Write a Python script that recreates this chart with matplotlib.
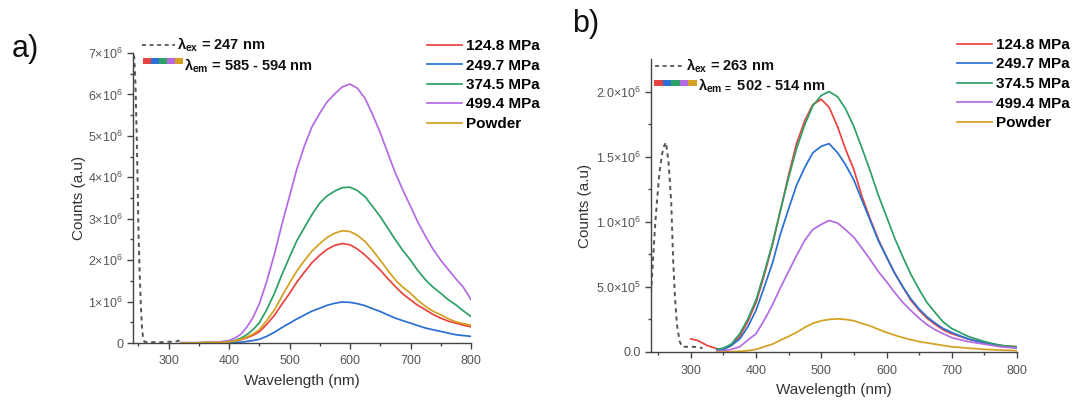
import numpy as np
import matplotlib
matplotlib.use("Agg")
import matplotlib.pyplot as plt
from matplotlib.lines import Line2D
from matplotlib.patches import Rectangle

plt.rcParams['font.family'] = ['Liberation Sans', 'DejaVu Sans']
plt.rcParams['mathtext.fontset'] = 'custom'
plt.rcParams['mathtext.rm'] = 'Liberation Sans'
plt.rcParams['mathtext.it'] = 'Liberation Sans:italic'
plt.rcParams['mathtext.bf'] = 'Liberation Sans:bold'

# ---------------- data ----------------
labels = ["124.8 MPa", "249.7 MPa", "374.5 MPa", "499.4 MPa", "Powder"]
colors = ["#e8433f", "#2a6fd4", "#2ca065", "#b56ae3", "#d4a020"]

# panel a (counts in units of 1e6)
ex_a_x = [242, 243, 245, 247, 249, 250, 252, 254, 256, 258, 260, 265, 270, 280, 290, 300, 310, 318]
ex_a_y = [6.95, 6.9, 6.3, 5.1, 3.6, 2.7, 1.7, 0.9, 0.35, 0.08, 0.03, 0.02, 0.02, 0.02, 0.02, 0.03, 0.03, 0.06]
em_a_x = [320, 340, 360, 380, 400, 410, 420, 430, 440, 450, 462, 475, 487, 500, 512, 525, 537, 550,
          562, 575, 587, 600, 612, 625, 637, 650, 662, 675, 687, 700, 712, 725, 737, 750, 762, 775, 787, 800]
em_a_124 = [0, 0, 0.01, 0.01, 0.02, 0.04, 0.08, 0.13, 0.19, 0.27, 0.45, 0.67, 0.93, 1.2, 1.47, 1.72, 1.94, 2.12,
            2.26, 2.36, 2.4, 2.37, 2.27, 2.12, 1.95, 1.76, 1.56, 1.36, 1.19, 1.04, 0.91, 0.8, 0.69, 0.6, 0.53, 0.48, 0.43, 0.39]
em_a_249 = [0, 0, 0, 0, 0.01, 0.015, 0.02, 0.04, 0.06, 0.09, 0.16, 0.26, 0.37, 0.48, 0.58, 0.68, 0.77, 0.84,
            0.91, 0.96, 0.99, 0.98, 0.95, 0.9, 0.83, 0.76, 0.68, 0.6, 0.54, 0.48, 0.42, 0.36, 0.32, 0.28, 0.24, 0.2, 0.18, 0.16]
em_a_374 = [0, 0, 0.01, 0.01, 0.03, 0.06, 0.12, 0.21, 0.33, 0.49, 0.8, 1.2, 1.64, 2.08, 2.47, 2.8, 3.1, 3.38,
            3.55, 3.67, 3.75, 3.76, 3.68, 3.53, 3.3, 3.05, 2.78, 2.49, 2.24, 2.0, 1.75, 1.52, 1.35, 1.2, 1.05, 0.92, 0.78, 0.64]
em_a_499 = [0.01, 0.01, 0.01, 0.02, 0.06, 0.12, 0.22, 0.4, 0.63, 0.95, 1.48, 2.15, 2.85, 3.55, 4.2, 4.78, 5.22, 5.55,
            5.82, 6.02, 6.18, 6.25, 6.15, 5.9, 5.52, 5.07, 4.6, 4.1, 3.7, 3.3, 2.92, 2.57, 2.27, 2.0, 1.78, 1.55, 1.35, 1.05]
em_a_pow = [0, 0, 0.01, 0.01, 0.03, 0.05, 0.09, 0.15, 0.22, 0.32, 0.54, 0.8, 1.12, 1.45, 1.74, 2.0, 2.22, 2.4,
            2.55, 2.65, 2.71, 2.69, 2.6, 2.45, 2.24, 2.0, 1.76, 1.52, 1.35, 1.2, 1.03, 0.88, 0.77, 0.68, 0.59, 0.51, 0.47, 0.43]

# panel b (counts in units of 1e6)
ex_b_x = [239, 242, 245, 248, 252, 256, 259, 262, 266, 270, 273, 276, 279, 283, 287, 295, 305, 318]
ex_b_y = [0.45, 0.7, 0.95, 1.15, 1.38, 1.52, 1.58, 1.61, 1.45, 1.15, 0.7, 0.4, 0.2, 0.08, 0.04, 0.04, 0.04, 0.03]
em_b_x = [300, 310, 325, 340, 350, 362, 375, 387, 400, 412, 425, 437, 450, 462, 475, 487, 500, 512, 525, 537,
          550, 562, 575, 587, 600, 612, 625, 637, 650, 662, 675, 687, 700, 725, 750, 775, 800]
nan = float('nan')
em_b_124 = [0.1, 0.09, 0.05, 0.025, 0.02, 0.05, 0.12, 0.23, 0.38, 0.58, 0.82, 1.08, 1.36, 1.6, 1.78, 1.9, 1.94, 1.88, 1.73, 1.56,
            1.4, 1.2, 1.02, 0.87, 0.73, 0.61, 0.5, 0.4, 0.32, 0.26, 0.21, 0.17, 0.14, 0.1, 0.07, 0.05, 0.04]
em_b_249 = [nan, nan, nan, 0.02, 0.02, 0.05, 0.1, 0.19, 0.32, 0.49, 0.68, 0.9, 1.1, 1.28, 1.42, 1.53, 1.58, 1.6, 1.53, 1.44,
            1.32, 1.17, 1.01, 0.86, 0.73, 0.61, 0.5, 0.41, 0.33, 0.27, 0.22, 0.18, 0.15, 0.1, 0.07, 0.05, 0.03]
em_b_374 = [nan, nan, nan, 0.02, 0.03, 0.06, 0.14, 0.25, 0.4, 0.6, 0.83, 1.08, 1.34, 1.56, 1.75, 1.89, 1.97, 2.0, 1.96, 1.87,
            1.73, 1.57, 1.39, 1.21, 1.04, 0.88, 0.73, 0.6, 0.48, 0.38, 0.3, 0.23, 0.18, 0.12, 0.08, 0.05, 0.04]
em_b_499 = [nan, nan, nan, 0.01, 0.01, 0.02, 0.04, 0.09, 0.14, 0.24, 0.36, 0.49, 0.62, 0.74, 0.86, 0.94, 0.98, 1.01, 0.99, 0.94,
            0.88, 0.8, 0.71, 0.62, 0.54, 0.46, 0.38, 0.32, 0.26, 0.21, 0.17, 0.14, 0.11, 0.08, 0.06, 0.04, 0.03]
em_b_pow = [nan, nan, nan, 0.0, 0.0, 0.002, 0.005, 0.01, 0.02, 0.04, 0.06, 0.09, 0.12, 0.15, 0.19, 0.22, 0.24, 0.25, 0.255, 0.25,
            0.24, 0.22, 0.2, 0.175, 0.15, 0.13, 0.11, 0.095, 0.08, 0.07, 0.06, 0.05, 0.04, 0.03, 0.02, 0.015, 0.01]

a_yticks = [0, 1, 2, 3, 4, 5, 6, 7]
a_yticklabels = ["0"] + [r"%d×10$^{6}$" % v for v in a_yticks[1:]]
b_yticks = [0, 0.5, 1.0, 1.5, 2.0]
b_yticklabels = ["0.0", r"5.0×10$^{5}$", r"1.0×10$^{6}$", r"1.5×10$^{6}$", r"2.0×10$^{6}$"]
x_ticks = [300, 400, 500, 600, 700, 800]

# ---------------- figure ----------------
W, H = 1078, 401
fig = plt.figure(figsize=(W / 100, H / 100), dpi=100)

def fx(px):
    return px / W

def fy(py):
    return 1 - py / H

def make_axes(l, t, r, b):
    return fig.add_axes([fx(l), fy(b), fx(r) - fx(l), fy(t) - fy(b)])

axA = make_axes(133, 53, 471, 343)
axB = make_axes(651, 59, 1017, 352)

TICKC = "#555555"
SPINEC = "#444444"

def style(ax, xlim, ylim, yticks, ylabels, yminor, ylabelpad):
    ax.set_xlim(*xlim)
    ax.set_ylim(*ylim)
    for s in ["top", "right"]:
        ax.spines[s].set_visible(False)
    for s in ["left", "bottom"]:
        ax.spines[s].set_color(SPINEC)
        ax.spines[s].set_linewidth(1.0)
    ax.set_xticks(x_ticks)
    ax.set_xticks(np.arange(250, 800, 100), minor=True)
    ax.set_yticks([v * 1e6 for v in yticks])
    ax.set_yticklabels(ylabels)
    ax.set_yticks([v * 1e6 for v in yminor], minor=True)
    ax.tick_params(which="major", direction="out", length=4, width=1, color=SPINEC,
                   labelsize=9, labelcolor=TICKC, pad=3)
    ax.tick_params(axis="x", which="major", pad=5)
    ax.tick_params(which="minor", direction="out", length=2.5, width=1, color=SPINEC)
    ax.set_xlabel("Wavelength (nm)", fontsize=11, color="#333333", labelpad=5)
    ax.set_ylabel("Counts (a.u)", fontsize=11, color="#333333", labelpad=ylabelpad)

def plot_panel(ax, ex_x, ex_y, em_x, series):
    ax.plot(ex_x, np.array(ex_y) * 1e6, color="#555555", lw=1.4, ls=(0, (2.2, 2.0)))
    handles = []
    for ys, c in zip(series, colors):
        h, = ax.plot(em_x, np.array(ys) * 1e6, color=c, lw=1.25)
        handles.append(h)
    return handles

hA = plot_panel(axA, ex_a_x, ex_a_y, em_a_x, [em_a_124, em_a_249, em_a_374, em_a_499, em_a_pow])
hB = plot_panel(axB, ex_b_x, ex_b_y, em_b_x, [em_b_124, em_b_249, em_b_374, em_b_499, em_b_pow])

style(axA, (241, 800), (0, 7.0e6), a_yticks, a_yticklabels, np.arange(0.5, 7.0, 1.0), 1.5)
style(axB, (239, 800), (0, 2.25e6), b_yticks, b_yticklabels, np.arange(0.25, 2.25, 0.5), 3)

def right_legend(handles, px, py):
    fig.legend(handles, labels, loc="upper left", bbox_to_anchor=(fx(px), fy(py)),
               bbox_transform=fig.transFigure, frameon=False, borderpad=0, borderaxespad=0,
               handlelength=2.3, handletextpad=0.25, labelspacing=0.36,
               prop={"weight": "bold", "size": 11})

right_legend(hA, 427, 39)
right_legend(hB, 957, 38)

def left_legend(dash_x0, dash_x1, dash_y, ex_text_x, ex_text, bar_x0, bar_x1, bar_y, em_text_x, em_text_y, em_text):
    fig.add_artist(Line2D([fx(dash_x0), fx(dash_x1)], [fy(dash_y), fy(dash_y)],
                          transform=fig.transFigure, color="#555555", lw=1.3, ls=(0, (2.2, 2.0))))
    fig.text(fx(ex_text_x), fy(dash_y), ex_text, fontsize=10.5, fontweight="bold",
             va="center", ha="left", color="#111111")
    seg = (bar_x1 - bar_x0) / len(colors)
    for i, c in enumerate(colors):
        fig.add_artist(Rectangle((fx(bar_x0 + i * seg), fy(bar_y + 3)), fx(seg), 6 / H,
                                 transform=fig.transFigure, color=c, lw=0))
    fig.text(fx(em_text_x), fy(em_text_y), em_text, fontsize=10.5, fontweight="bold",
             va="center", ha="left", color="#111111")

left_legend(142, 175, 45, 177, r"λ$_{\mathbf{ex}}$ = 247 nm", 143, 183, 61, 184, 66,
            r"λ$_{\mathbf{em}}$ = 585 - 594 nm")
left_legend(655, 683, 66, 686, r"λ$_{\mathbf{ex}}$ = 263 nm", 654, 697, 83, 698, 86,
            r"λ$_{\mathbf{em}}$$_{\,\mathbf{=}}$ 502 - 514 nm")

fig.text(fx(12), fy(49), "a)", fontsize=22, va="center", ha="left", color="#111111")
fig.text(fx(572), fy(24), "b)", fontsize=22, va="center", ha="left", color="#111111")

fig.savefig("out.png", dpi=100)
